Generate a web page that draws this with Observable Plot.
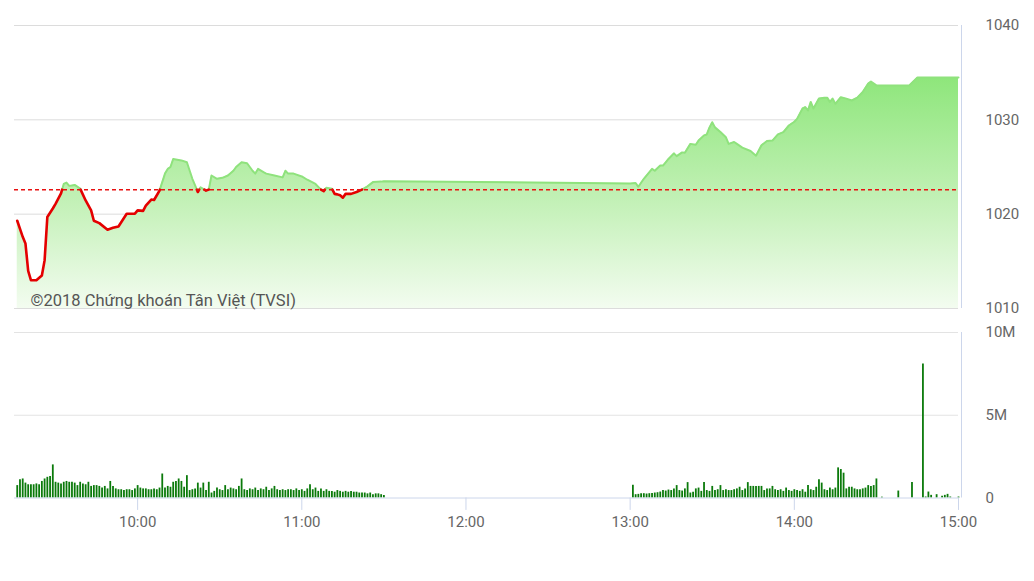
<!DOCTYPE html>
<html><head><meta charset="utf-8">
<script src="https://cdn.jsdelivr.net/npm/d3@7"></script>
<script src="https://cdn.jsdelivr.net/npm/@observablehq/plot@0.6"></script>
<style>
html,body{margin:0;padding:0;background:#fff;}
#chart{width:1034px;height:581px;position:relative;overflow:hidden;}
#chart svg{display:block;}
</style></head><body><div id="chart"></div>
<script>
// ---- data ----
const refLevel = 1022.6; // previous close (dashed line)
const priceTimes = ["9:16","9:18","9:19","9:20","9:21","9:23","9:25","9:26","9:27","9:29","9:30","9:32","9:33","9:34","9:35","9:36","9:37","9:39","9:41","9:43","9:44","9:46","9:49","9:51","9:53","9:56","9:59","10:00","10:02","10:03","10:05","10:06","10:08","10:10","10:11","10:12","10:13","10:16","10:18","10:20","10:21","10:22","10:23","10:25","10:26","10:27","10:29","10:31","10:33","10:35","10:36","10:38","10:40","10:41","10:42","10:43","10:44","10:46","10:47","10:50","10:53","10:54","10:55","10:57","11:00","11:02","11:05","11:07","11:08","11:09","11:11","11:12","11:13","11:14","11:15","11:16","11:18","11:20","11:22","11:24","11:26","11:29","11:30",
"13:00","13:02","13:03","13:05","13:08","13:09","13:11","13:12","13:13","13:14","13:16","13:17","13:19","13:20","13:22","13:24","13:25","13:27","13:28","13:29","13:30","13:31","13:33","13:35","13:36","13:38","13:39","13:41","13:44","13:46","13:48","13:50","13:52","13:54","13:56","13:58","14:00","14:01","14:03","14:04","14:05","14:06","14:07","14:09","14:11","14:12","14:13","14:14","14:15","14:17","14:19","14:21","14:23","14:25","14:27","14:28","14:30","14:42","14:45","15:00"];
const priceValues = [1019.3,1017.6,1016.9,1014.0,1013.0,1013.0,1013.5,1015.1,1019.7,1020.6,1021.1,1022.2,1023.2,1023.35,1023.0,1023.05,1023.1,1022.7,1021.45,1020.4,1019.3,1019.05,1018.35,1018.55,1018.7,1020.05,1020.05,1020.4,1020.35,1020.9,1021.55,1021.5,1022.5,1024.3,1024.8,1025.0,1025.85,1025.7,1025.5,1023.75,1023.05,1022.35,1022.85,1022.5,1022.6,1024.1,1023.75,1023.85,1024.1,1024.6,1025.0,1025.5,1025.4,1025.0,1024.6,1024.3,1024.8,1024.45,1024.3,1024.1,1023.9,1024.6,1024.3,1024.3,1024.0,1023.65,1023.2,1022.6,1022.45,1022.8,1022.7,1022.15,1022.1,1022.0,1021.75,1022.15,1022.15,1022.35,1022.6,1022.95,1023.4,1023.45,1023.5,
1023.25,1023.3,1022.9,1023.75,1024.8,1024.6,1025.15,1025.15,1025.5,1025.85,1026.45,1026.15,1026.55,1026.5,1027.45,1027.35,1027.8,1028.35,1028.45,1029.2,1029.75,1029.2,1028.7,1028.15,1027.45,1027.65,1027.45,1027.05,1026.7,1026.2,1027.3,1027.75,1027.8,1028.45,1028.7,1029.4,1029.8,1030.1,1031.2,1031.35,1031.0,1031.9,1031.2,1032.25,1032.35,1032.35,1031.9,1032.25,1031.7,1032.4,1032.25,1032.05,1032.35,1032.95,1033.85,1034.05,1033.65,1033.65,1034.5,1034.5];

// volumes in millions, one per minute
const morningStart = "9:16";
const morningVolumes = [0.75,1.1,1.15,0.9,0.8,0.8,0.8,0.85,0.8,1.0,1.15,1.25,1.3,2.0,0.95,0.9,0.85,0.95,1.0,0.95,0.95,0.9,0.75,0.95,0.85,0.8,0.95,0.7,0.75,0.75,0.7,0.6,0.7,0.55,1.0,0.7,0.55,0.5,0.5,0.45,0.5,0.5,0.45,0.55,0.75,0.6,0.55,0.55,0.5,0.5,0.55,0.5,0.6,1.45,0.6,0.7,0.65,0.95,1.0,1.15,1.0,0.65,1.35,0.45,0.5,0.55,0.9,0.6,0.9,0.45,0.95,0.3,0.4,0.6,0.5,0.45,0.75,0.5,0.6,0.55,0.5,0.7,1.15,0.5,0.45,0.55,0.5,0.6,0.45,0.55,0.5,0.65,0.45,0.55,0.7,0.5,0.45,0.5,0.45,0.5,0.5,0.45,0.55,0.45,0.5,0.4,0.55,0.8,0.5,0.6,0.4,0.55,0.4,0.5,0.4,0.4,0.35,0.45,0.4,0.35,0.4,0.35,0.4,0.35,0.35,0.3,0.3,0.3,0.25,0.3,0.2,0.25,0.25,0.2,0.15];
const afternoonStart = "13:01";
const afternoonVolumes = [0.77,0.2,0.22,0.25,0.26,0.24,0.26,0.27,0.3,0.32,0.36,0.45,0.42,0.48,0.45,0.55,0.75,0.45,0.42,0.55,0.93,0.3,0.35,0.55,0.6,0.4,0.93,0.45,0.4,0.7,0.45,0.5,0.75,0.45,0.5,0.45,0.45,0.5,0.55,0.65,0.45,0.55,0.93,0.7,0.7,0.7,0.7,0.7,0.45,0.55,0.55,0.7,0.5,0.45,0.5,0.4,0.6,0.45,0.4,0.5,0.45,0.4,0.5,0.35,0.75,0.5,0.45,0.65,1.1,0.9,0.5,0.45,0.6,0.5,0.6,1.82,1.72,1.5,0.55,0.65,0.65,0.55,0.5,0.5,0.55,0.6,0.75,0.7,0.75,1.15];
const lateTimes = ["14:32","14:38","14:43","14:47","14:48","14:49","14:50","14:52","14:54","14:55","14:56","14:57","15:00"];
const lateVolumes = [0.05,0.42,0.93,8.1,0.06,0.36,0.16,0.2,0.1,0.16,0.22,0.06,0.06];

const priceTicks = [1010, 1020, 1030, 1040];
const volumeTicks = [0, 5, 10];
const volumeTickLabels = ["0", "5M", "10M"];
const timeTicks = ["10:00", "11:00", "12:00", "13:00", "14:00", "15:00"];
const sessionStart = "9:15", sessionEnd = "15:00";
const watermark = "©2018 Chứng khoán Tân Việt (TVSI)";

// ---- build tables ----
const toMin = s => { const [h, m] = s.split(":").map(Number); return h * 60 + m; };
const fmtMin = m => `${Math.floor(m / 60)}:${String(m % 60).padStart(2, "0")}`;
const price = priceTimes.map((t, i) => ({t: toMin(t), v: priceValues[i]}));

function splitLine(data, below) {
  const out = [];
  const ok = d => below ? d.v <= refLevel : d.v >= refLevel;
  data.forEach((d, i) => {
    if (i > 0) {
      const a = data[i - 1];
      if ((a.v - refLevel) * (d.v - refLevel) < 0) {
        out.push({t: a.t + (refLevel - a.v) / (d.v - a.v) * (d.t - a.t), v: refLevel});
      }
    }
    out.push({t: d.t, v: ok(d) ? d.v : NaN});
  });
  return out;
}
const aboveLine = splitLine(price, false);
const belowLine = splitLine(price, true);

const volumes = [];
morningVolumes.forEach((v, i) => volumes.push({t: toMin(morningStart) + i, v}));
afternoonVolumes.forEach((v, i) => volumes.push({t: toMin(afternoonStart) + i, v}));
lateTimes.forEach((t, i) => volumes.push({t: toMin(t), v: lateVolumes[i]}));

const xDomain = [toMin(sessionStart), toMin(sessionEnd)];
const gridColor = "#dcdcdc";
const axisColor = "#ccd6eb";
const baseStyle = {fontFamily: "Roboto, sans-serif", fontSize: "15px", color: "#666", background: "transparent", overflow: "visible"};

// ---- price panel ----
const topPlot = Plot.plot({
  width: 1034, height: 315,
  marginTop: 25, marginBottom: 7, marginLeft: 14, marginRight: 76,
  style: baseStyle,
  x: {domain: xDomain, axis: null, label: null},
  y: {domain: [1010, 1040], axis: "right", label: null, ticks: priceTicks, tickSize: 0, tickPadding: 27, tickFormat: d => String(d)},
  marks: [
    Plot.ruleY(priceTicks, {stroke: gridColor}),
    Plot.areaY(price, {x: "t", y1: () => 1010, y2: "v", fill: "url(#areaGrad)"}),
    Plot.line(aboveLine, {x: "t", y: "v", stroke: "#8fe27d", strokeWidth: 2}),
    Plot.line(belowLine, {x: "t", y: "v", stroke: "#e40000", strokeWidth: 2.6}),
    Plot.ruleY([refLevel], {stroke: "#e81010", strokeDasharray: "4,3", strokeWidth: 1.5}),
    Plot.ruleX([xDomain[1]], {dx: 3, stroke: axisColor}),
    Plot.text([watermark], {text: d => d, frameAnchor: "bottom-left", textAnchor: "start", dx: 16, dy: -3, fontSize: 16.5, fill: "#555"})
  ]
});
const yS = topPlot.scale("y");
const gTop = yS.apply(d3.max(priceValues)), gBot = yS.apply(1010);
const defs = document.createElementNS("http://www.w3.org/2000/svg", "defs");
defs.innerHTML = `<linearGradient id="areaGrad" gradientUnits="userSpaceOnUse" x1="0" y1="${gTop}" x2="0" y2="${gBot}">
<stop offset="0" stop-color="#8ee67b"/><stop offset="0.55" stop-color="#c4f1b8"/><stop offset="1" stop-color="#f3fcf0"/></linearGradient>`;
topPlot.insertBefore(defs, topPlot.firstChild);

// ---- volume panel ----
const bottomPlot = Plot.plot({
  width: 1034, height: 266,
  marginTop: 17, marginBottom: 83.5, marginLeft: 14, marginRight: 76,
  style: baseStyle,
  x: {domain: xDomain, label: null, ticks: timeTicks.map(toMin), tickSize: 0, tickPadding: 18, tickFormat: fmtMin},
  y: {domain: [0, 10], axis: "right", label: null, ticks: volumeTicks, tickSize: 0, tickPadding: 27, tickFormat: d => volumeTickLabels[volumeTicks.indexOf(d)]},
  marks: [
    Plot.ruleY([5, 10], {stroke: "#e3e3e3"}),
    Plot.ruleX(volumes, {x: "t", y1: () => 0, y2: "v", stroke: "#0b7a0b", strokeWidth: 1.8}),
    Plot.ruleY([0], {stroke: axisColor}),
    Plot.ruleX(timeTicks.map(toMin), {y1: () => 0, y2: () => -0.75, stroke: axisColor}),
    Plot.ruleX([xDomain[1]], {dx: 3, y1: () => 0, y2: () => 10, stroke: axisColor})
  ]
});

const chart = document.getElementById("chart");
chart.appendChild(topPlot);
chart.appendChild(bottomPlot);
</script></body></html>
